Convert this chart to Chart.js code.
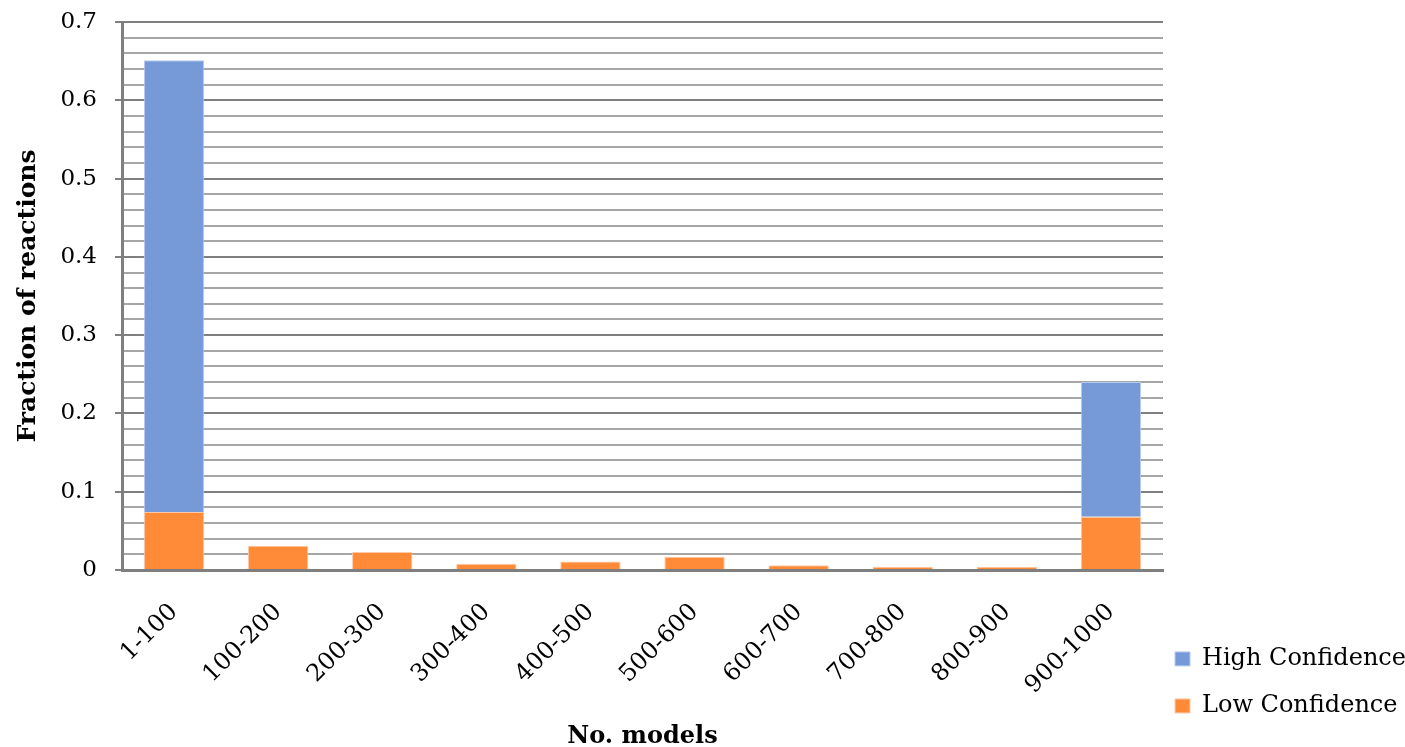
<!DOCTYPE html>
<html>
<head>
<meta charset="utf-8">
<script src="https://cdn.jsdelivr.net/npm/chart.js@4"></script>
<style>
  html, body { margin: 0; padding: 0; background: #ffffff; }
  #wrap { width: 1405px; height: 747px; }
</style>
</head>
<body>
<div id="wrap"><canvas id="chart" width="1405" height="747"></canvas></div>
<script>
// Bins of model counts
const categories = ['1-100', '100-200', '200-300', '300-400', '400-500',
                    '500-600', '600-700', '700-800', '800-900', '900-1000'];
// Fraction of reactions per bin, split by confidence
const lowConfidence  = [0.074, 0.031, 0.023, 0.008, 0.011, 0.017, 0.006, 0.004, 0.004, 0.068];
const highConfidence = [0.577, 0, 0, 0, 0, 0, 0, 0, 0, 0.172];
const seriesNames = ['Low Confidence', 'High Confidence'];
const yTitle = 'Fraction of reactions';
const xTitle = 'No. models';

const FONT = "'DejaVu Serif', 'Liberation Serif', serif";
const MAJOR = '#7f7f7f';
const MINOR = '#a6a6a6';

// Fixed axis box sizes so the plot area sits where it should
const Y_AXIS_WIDTH = 122;
const X_AXIS_HEIGHT = 171;

function isMajor(v) {
  return Math.abs(v * 10 - Math.round(v * 10)) < 1e-6;
}

new Chart(document.getElementById('chart'), {
  type: 'bar',
  data: {
    labels: categories,
    datasets: [
      {
        label: seriesNames[0],
        data: lowConfidence,
        backgroundColor: '#ff8a37',
        borderColor: '#ffc9a6',
        borderWidth: 1,
        barPercentage: 0.58,
        categoryPercentage: 1.0
      },
      {
        label: seriesNames[1],
        data: highConfidence,
        backgroundColor: '#7699d8',
        borderColor: '#b8cbee',
        borderWidth: 1,
        barPercentage: 0.58,
        categoryPercentage: 1.0
      }
    ]
  },
  options: {
    responsive: false,
    animation: false,
    layout: { padding: { left: 0, top: 22, right: 0, bottom: 6 } },
    plugins: {
      legend: {
        position: 'right',
        align: 'end',
        reverse: true,
        maxWidth: 242,
        labels: {
          boxWidth: 15,
          boxHeight: 14,
          padding: 12,
          color: '#000000',
          font: { family: FONT, size: 24, lineHeight: 1.46 },
          // one-line arrays so each entry takes the font's line height
          generateLabels: (chart) =>
            Chart.defaults.plugins.legend.labels.generateLabels(chart)
              .map((item) => Object.assign({}, item, { text: [item.text] }))
        }
      },
      tooltip: { enabled: false }
    },
    scales: {
      x: {
        stacked: true,
        grid: { display: false, drawTicks: false },
        border: { display: true, color: MAJOR, width: 3 },
        ticks: {
          autoSkip: false,
          maxRotation: 45,
          minRotation: 45,
          padding: 28,
          color: '#000000',
          font: { family: FONT, size: 24 }
        },
        title: {
          display: true,
          text: xTitle,
          color: '#000000',
          font: { family: FONT, size: 24, weight: 'bold' },
          padding: { top: 0, bottom: -10 }
        },
        afterFit: (scale) => {
          scale.height = X_AXIS_HEIGHT;
          scale.paddingLeft = 0;
          scale.paddingRight = 0;
        }
      },
      y: {
        stacked: true,
        min: 0,
        max: 0.7,
        border: { display: true, color: MAJOR, width: 3 },
        grid: {
          color: (ctx) => isMajor(ctx.tick.value) ? MAJOR : MINOR,
          tickColor: (ctx) => isMajor(ctx.tick.value) ? MAJOR : 'rgba(0,0,0,0)',
          lineWidth: 2,
          tickLength: 7
        },
        ticks: {
          stepSize: 0.02,
          autoSkip: false,
          padding: 18,
          color: '#000000',
          font: { family: FONT, size: 23 },
          callback: (v) => isMajor(v) ? String(Math.round(v * 10) / 10) : ''
        },
        title: {
          display: true,
          text: yTitle,
          color: '#000000',
          font: { family: FONT, size: 25, weight: 'bold' },
          padding: { top: 13, bottom: 0 }
        },
        afterFit: (scale) => {
          scale.width = Y_AXIS_WIDTH;
          scale.paddingTop = 0;
          scale.paddingBottom = 0;
        }
      }
    }
  }
});
</script>
</body>
</html>
